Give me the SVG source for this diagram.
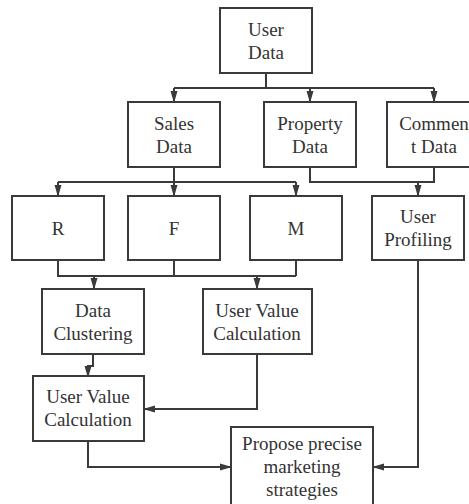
<svg xmlns="http://www.w3.org/2000/svg" width="469" height="504" viewBox="0 0 469 504">
<style>
.box{fill:#fff;stroke:#3a3a3a;stroke-width:2}
.ln{fill:none;stroke:#3a3a3a;stroke-width:2}
.t{font-family:'Liberation Serif','Times New Roman',serif;font-size:19px;fill:#333;text-anchor:middle}
</style>
<defs>
<marker id="ah" markerWidth="12" markerHeight="10" refX="11" refY="5" orient="auto" markerUnits="userSpaceOnUse">
<path d="M0,1.5 L12,5 L0,8.5 Z" fill="#3a3a3a"/>
</marker>
</defs>
<rect width="469" height="504" fill="#fff"/>
<g id="connectors">
<path class="ln" d="M266,73 V88"/>
<path class="ln" d="M174,88 H434"/>
<path class="ln" d="M174,88 V102" marker-end="url(#ah)"/>
<path class="ln" d="M310,88 V102" marker-end="url(#ah)"/>
<path class="ln" d="M434,88 V102" marker-end="url(#ah)"/>
<path class="ln" d="M174,167 V182 M58,182 H296"/>
<path class="ln" d="M58,182 V196" marker-end="url(#ah)"/>
<path class="ln" d="M174,182 V196" marker-end="url(#ah)"/>
<path class="ln" d="M296,182 V196" marker-end="url(#ah)"/>
<path class="ln" d="M310,167 V182 H434 V167"/>
<path class="ln" d="M418,182 V196" marker-end="url(#ah)"/>
<path class="ln" d="M58,260 V276 H296 M174,260 V276 M296,260 V276"/>
<path class="ln" d="M94,276 V289" marker-end="url(#ah)"/>
<path class="ln" d="M257,276 V289" marker-end="url(#ah)"/>
<path class="ln" d="M93,354 V366 H88 V377" marker-end="url(#ah)"/>
<path class="ln" d="M257,354 V409 H144" marker-end="url(#ah)"/>
<path class="ln" d="M88,441 V467 H231" marker-end="url(#ah)"/>
<path class="ln" d="M418,260 V467 H373" marker-end="url(#ah)"/>
</g>
<g id="user-data"><rect class="box" x="220" y="8" width="92" height="65"/><text class="t" x="266" y="36">User</text><text class="t" x="266" y="59">Data</text></g>
<g id="sales-data"><rect class="box" x="128" y="102" width="92" height="65"/><text class="t" x="174" y="130">Sales</text><text class="t" x="174" y="153">Data</text></g>
<g id="property-data"><rect class="box" x="264" y="102" width="92" height="65"/><text class="t" x="310" y="130">Property</text><text class="t" x="310" y="153">Data</text></g>
<g id="comment-data"><rect class="box" x="387" y="102" width="94" height="65"/><text class="t" x="434" y="130">Commen</text><text class="t" x="434" y="153">t Data</text></g>
<g id="r"><rect class="box" x="12" y="196" width="92" height="64"/><text class="t" x="58" y="235">R</text></g>
<g id="f"><rect class="box" x="128" y="196" width="92" height="64"/><text class="t" x="174" y="235">F</text></g>
<g id="m"><rect class="box" x="250" y="196" width="92" height="64"/><text class="t" x="296" y="235">M</text></g>
<g id="user-profiling"><rect class="box" x="372" y="196" width="92" height="64"/><text class="t" x="418" y="223">User</text><text class="t" x="418" y="246">Profiling</text></g>
<g id="data-clustering"><rect class="box" x="42" y="289" width="102" height="65"/><text class="t" x="93" y="317">Data</text><text class="t" x="93" y="340">Clustering</text></g>
<g id="user-value-calc-1"><rect class="box" x="203" y="289" width="109" height="65"/><text class="t" x="257" y="317">User Value</text><text class="t" x="257" y="340">Calculation</text></g>
<g id="user-value-calc-2"><rect class="box" x="33" y="376" width="111" height="65"/><text class="t" x="88" y="403">User Value</text><text class="t" x="88" y="426">Calculation</text></g>
<g id="propose"><rect class="box" x="231" y="427" width="142" height="90"/><text class="t" x="302" y="450">Propose precise</text><text class="t" x="302" y="473">marketing</text><text class="t" x="302" y="496">strategies</text></g>
</svg>
